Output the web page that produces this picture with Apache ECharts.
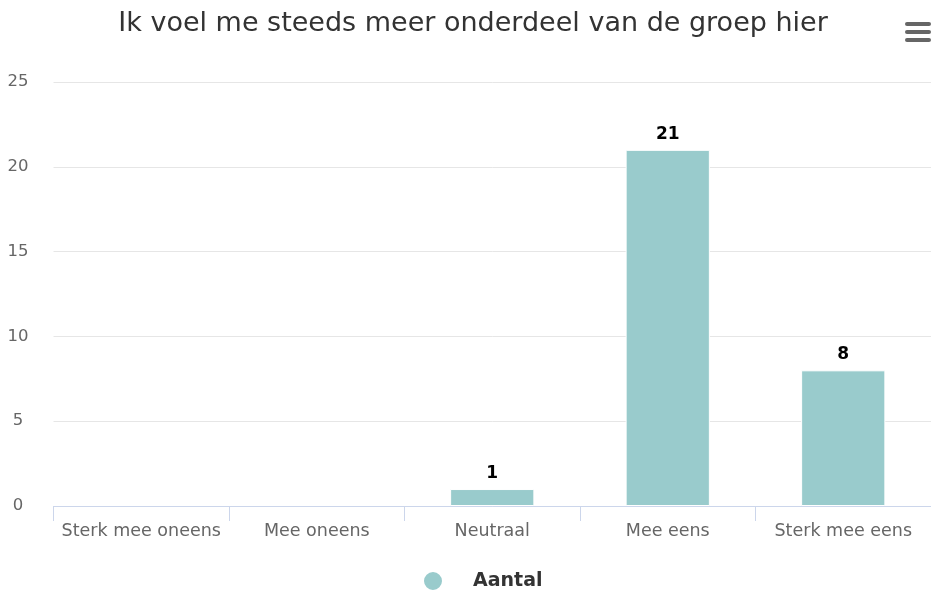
<!DOCTYPE html>
<html><head><meta charset="utf-8">
<script src="https://cdn.jsdelivr.net/npm/echarts@6/dist/echarts.min.js"></script>
<style>html,body{margin:0;padding:0;background:#fff}#c{width:931px;height:594px}</style>
</head><body><div id="c"></div>
<script>
var titleText = 'Ik voel me steeds meer onderdeel van de groep hier';
var categories = ['Sterk mee oneens', 'Mee oneens', 'Neutraal', 'Mee eens', 'Sterk mee eens'];
var seriesName = 'Aantal';
var values = [0, 0, 1, 21, 8];
var yTicks = [0, 5, 10, 15, 20, 25];

var chart = echarts.init(document.getElementById('c'), null, {renderer: 'canvas'});
var F = "'DejaVu Sans'";
var barData = values.map(function(v){
  return {value: v, itemStyle: {borderWidth: v > 0 ? 1 : 0, opacity: v > 0 ? 1 : 0}};
});
chart.setOption({
  animation: false,
  title: {text: titleText, left: 468, top: 5, textAlign: 'center',
    textStyle: {fontFamily: F, fontSize: 27, fontWeight: 'normal', color: '#333333'}},
  legend: {data: [{name: seriesName, icon: 'circle'}], top: 570, left: 422, padding: 0, itemWidth: 20, itemHeight: 20, itemGap: 10,
    textStyle: {fontFamily: F, fontSize: 19, fontWeight: 'bold', color: '#333333', padding: [0,0,0,25]}},
  grid: {left: 53.5, width: 880, top: 82, bottom: 88, containLabel: false},
  xAxis: {type: 'category', data: categories,
    axisLine: {lineStyle: {color: '#ccd6eb'}},
    axisTick: {show: true, length: 15, lineStyle: {color: '#ccd6eb'}},
    axisLabel: {interval: 0, fontFamily: F, fontSize: 17.5, color: '#666666', margin: 16}},
  yAxis: {type: 'value', min: yTicks[0], max: yTicks[yTicks.length-1], interval: 5,
    axisLine: {show: false}, axisTick: {show: false},
    splitLine: {lineStyle: {color: '#e6e6e6'}},
    axisLabel: {fontFamily: F, fontSize: 16.5, color: '#666666', margin: 35.5, align: 'center'}},
  series: [{name: seriesName, type: 'bar', data: barData, barWidth: '48%',
    itemStyle: {color: '#99cbcc', borderColor: '#ffffff', borderWidth: 1},
    label: {show: true, position: 'top', distance: 7, fontFamily: F, fontSize: 17, fontWeight: 'bold', color: '#000000',
      formatter: function(p){ return p.value > 0 ? p.value : ''; }}}],
  graphic: [
    {type: 'rect', shape: {x: 905, y: 22, width: 26, height: 4, r: 2}, style: {fill: '#666666'}},
    {type: 'rect', shape: {x: 905, y: 30, width: 26, height: 4, r: 2}, style: {fill: '#666666'}},
    {type: 'rect', shape: {x: 905, y: 38, width: 26, height: 4, r: 2}, style: {fill: '#666666'}}
  ]
});
</script></body></html>
